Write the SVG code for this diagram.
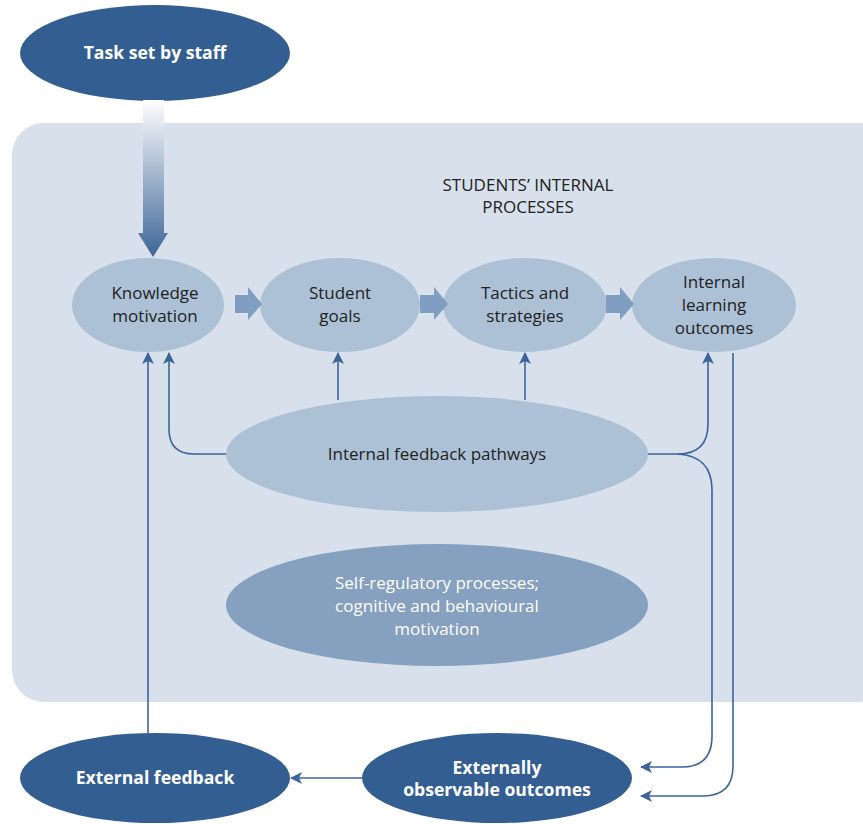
<svg xmlns="http://www.w3.org/2000/svg" width="863" height="824" viewBox="0 0 863 824">
<defs>
<style>
.dark{fill:#335e92}
.light{fill:#adc1d6}
.mid{fill:#86a0c0}
.wt{font-family:"Open Sans","Noto Sans","Liberation Sans",sans-serif;font-size:17.6px;font-weight:bold;fill:#ffffff;text-anchor:middle}
.t{font-family:"Open Sans","Noto Sans","Liberation Sans",sans-serif;font-size:17px;fill:#222222;text-anchor:middle}
.tw{font-family:"Open Sans","Noto Sans","Liberation Sans",sans-serif;font-size:17px;fill:#ffffff;text-anchor:middle}
.ln{fill:none;stroke:#3b659a;stroke-width:1.6}
.blk{fill:#809ec2}
</style>
<linearGradient id="g" x1="0" y1="0" x2="0" y2="1">
<stop offset="0" stop-color="#ffffff"/>
<stop offset="1" stop-color="#3d6597"/>
</linearGradient>
<marker id="ah" viewBox="0 0 12 12" refX="11" refY="6" markerWidth="12" markerHeight="12" markerUnits="userSpaceOnUse" orient="auto">
<path d="M0,0 L12,6 L0,12 L3,6 Z" fill="#3b659a"/>
</marker>
</defs>
<rect x="12" y="123" width="880" height="579" rx="32" fill="#d7e0eb"/>
<text class="t" x="528" y="191">STUDENTS’ INTERNAL</text>
<text class="t" x="528" y="213">PROCESSES</text>

<g id="task">
<ellipse class="dark" cx="155" cy="53" rx="135" ry="48"/>
<text class="wt" x="155" y="59">Task set by staff</text>
</g>
<path d="M143,100 H164 V233 H168 L153,257 L138,233 H143 Z" fill="url(#g)"/>

<g id="knowledge">
<ellipse class="light" cx="148" cy="305" rx="76" ry="47"/>
<text class="t" x="155" y="299">Knowledge</text>
<text class="t" x="155" y="322">motivation</text>
</g>
<g id="goals">
<ellipse class="light" cx="340" cy="305" rx="80" ry="47"/>
<text class="t" x="340" y="299">Student</text>
<text class="t" x="340" y="322">goals</text>
</g>
<g id="tactics">
<ellipse class="light" cx="525" cy="305" rx="82" ry="47"/>
<text class="t" x="525" y="299">Tactics and</text>
<text class="t" x="525" y="322">strategies</text>
</g>
<g id="outcomes">
<ellipse class="light" cx="714" cy="305" rx="82" ry="47"/>
<text class="t" x="714" y="288">Internal</text>
<text class="t" x="714" y="311">learning</text>
<text class="t" x="714" y="334">outcomes</text>
</g>
<g id="blockarrows">
<path class="blk" d="M235,295 H248 V287 L262,304 L248,320 V313 H235 Z"/>
<path class="blk" d="M420,295 H434 V287 L448,304 L434,320 V313 H420 Z"/>
<path class="blk" d="M606,295 H620 V287 L634,304 L620,320 V313 H606 Z"/>
</g>

<g id="feedback">
<ellipse class="light" cx="437" cy="454" rx="211" ry="58"/>
<text class="t" x="437" y="460">Internal feedback pathways</text>
</g>
<g id="selfreg">
<ellipse class="mid" cx="437" cy="605" rx="211" ry="61"/>
<text class="tw" x="437" y="589">Self-regulatory processes;</text>
<text class="tw" x="437" y="612">cognitive and behavioural</text>
<text class="tw" x="437" y="635">motivation</text>
</g>

<g id="extfeedback">
<ellipse class="dark" cx="155" cy="778" rx="135" ry="45"/>
<text class="wt" x="155" y="784">External feedback</text>
</g>
<g id="extoutcomes">
<ellipse class="dark" cx="497" cy="778" rx="135" ry="45"/>
<text class="wt" x="497" y="774">Externally</text>
<text class="wt" x="497" y="796">observable outcomes</text>
</g>

<g id="connectors">
<path class="ln" d="M148,733 V353" marker-end="url(#ah)"/>
<path class="ln" d="M226,454 H194 Q169,454 169,429 V353" marker-end="url(#ah)"/>
<path class="ln" d="M338,400 V353" marker-end="url(#ah)"/>
<path class="ln" d="M525,400 V353" marker-end="url(#ah)"/>
<path class="ln" d="M648,454 H678 Q708,454 708,424 V353" marker-end="url(#ah)"/>
<path class="ln" d="M678,454 Q712,456 712,490 V736 Q712,767 682,767 H641" marker-end="url(#ah)"/>
<path class="ln" d="M733,353 V766 Q733,796 703,796 H641" marker-end="url(#ah)"/>
<path class="ln" d="M362,778 H291" marker-end="url(#ah)"/>
</g>
</svg>
